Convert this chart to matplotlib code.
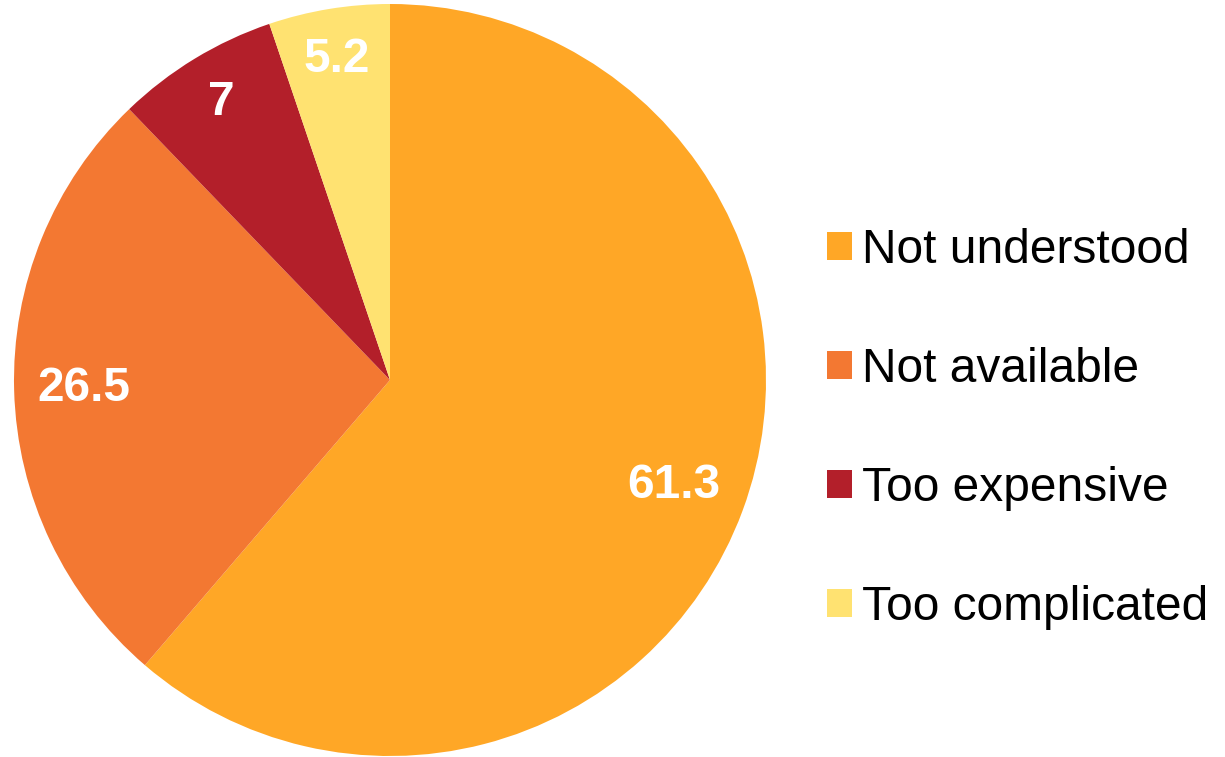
import matplotlib
matplotlib.use("Agg")
import matplotlib.pyplot as plt
import numpy as np
from matplotlib.patches import Patch

labels = ["Not understood", "Not available", "Too expensive", "Too complicated"]
values = [61.3, 26.5, 7, 5.2]
value_text = ["61.3", "26.5", "7", "5.2"]
colors = ["#FFA726", "#F37832", "#B31F2A", "#FFE271"]
label_dist = [0.805, 0.815, 0.865, 0.865]

plt.rcParams["font.family"] = ["Liberation Sans", "DejaVu Sans"]

fig = plt.figure(figsize=(12.25, 7.57), dpi=100)
ax = fig.add_axes([14/1225, 1/757, 752/1225, 752/757])
wedges, texts = ax.pie(values, colors=colors, startangle=90, counterclock=False,
                       labels=value_text, labeldistance=0.8,
                       textprops=dict(color="white", fontsize=34.5, fontweight="bold"))
# nudge each value label along its wedge's bisector
for w, t, d in zip(wedges, texts, label_dist):
    ang = np.deg2rad((w.theta1 + w.theta2) / 2)
    t.set_position((d * np.cos(ang), d * np.sin(ang)))
    t.set_ha("center"); t.set_va("center")
ax.set_xlim(-1, 1); ax.set_ylim(-1, 1)
ax.set_aspect("equal")

handles = [Patch(facecolor=c, edgecolor="none") for c in colors]
fig.legend(handles, labels, loc="center left", bbox_to_anchor=(827/1225, 1 - 429/757),
           frameon=False, fontsize=34.5, handlelength=0.52, handleheight=0.52,
           handletextpad=0.2, labelspacing=1.55, borderaxespad=0, borderpad=0)

fig.savefig("out.png", dpi=100)
